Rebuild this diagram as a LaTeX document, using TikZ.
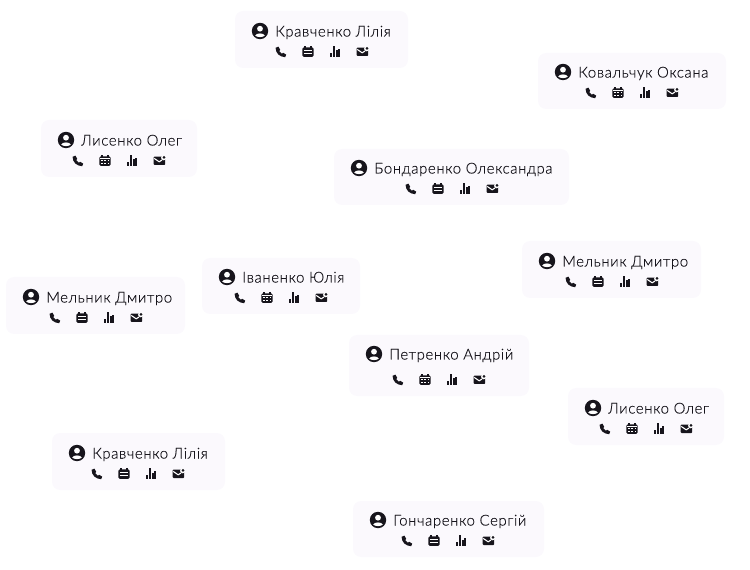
\documentclass[tikz,border=0pt]{standalone}
\usepackage{fontspec}
\setmainfont[LetterSpace=4,FakeBold=0.2]{Lato Light}
\usepackage{tikz}

\definecolor{cardbg}{HTML}{FBF9FD}
\definecolor{inkdark}{HTML}{17151C}

\begin{document}
\begin{tikzpicture}[x=0.75pt, y=-0.75pt,
    card/.style={fill=cardbg, rounded corners=6pt},
    person_name/.style={anchor=base west, inner sep=0pt, text=inkdark, font=\fontsize{11.2}{13}\selectfont},
    avatar/.pic={
      \fill[inkdark] (0,0) circle (8.2);
      \fill[white] (0,-2.3) circle (2.9);
      \fill[white] (-4.8,4.6) .. controls (-3.8,1.7) and (3.8,1.7) .. (4.8,4.6)
        .. controls (2.5,6.6) and (-2.5,6.6) .. cycle;
    },
    actions/.pic={
      % --- Phone ---
      \fill[inkdark] (-5.4,-4.2) -- (-2.6,-5.4) -- (-0.8,-2.2) -- (-1.8,-0.8)
        .. controls (-1.1,0.2) and (-0.2,1.1) .. (0.8,1.8) -- (2.2,0.8) -- (5.2,2.6) -- (4.2,5.2)
        .. controls (-1.5,5) and (-5.4,1.2) .. cycle;
      % --- Bars ---
      \fill[inkdark] (49,1) rectangle (51,5.2);
      \fill[inkdark] (51.8,-6) rectangle (53.8,5.2);
      \fill[inkdark] (54.6,-1.5) rectangle (56.6,5.2);
      \fill[inkdark] (57.4,-3) rectangle (59.4,5.2);
      % --- Mail ---
      \fill[inkdark, rounded corners=0.6pt] (75.7,-4.4) rectangle (87.2,4);
      \draw[white, line width=0.8pt] (76.2,-2.6) -- (81.2,0.8) -- (84,-1);
      \fill[white] (85.6,-3.2) circle (2.5);
      \fill[inkdark] (86,-3.7) circle (1.5);
    },
    agenda/.pic={
      \fill[inkdark, rounded corners=1pt] (-5.6,-4.6) rectangle (5.6,4.9);
      \fill[inkdark] (-3.6,-5.6) rectangle (-2.4,-3.5);
      \fill[inkdark] (2.4,-5.6) rectangle (3.6,-3.5);
      \fill[white] (-4.3,-1.8) rectangle (4.3,-1.1);
      \fill[white] (-4.3,1.1) rectangle (4.3,1.8);
    },
    month/.pic={
      \fill[inkdark, rounded corners=1pt] (-5.6,-4.6) rectangle (5.6,4.9);
      \fill[inkdark] (-3.6,-5.6) rectangle (-2.4,-3.5);
      \fill[inkdark] (2.4,-5.6) rectangle (3.6,-3.5);
      \fill[white] (-4.6,-2.6) rectangle (4.6,-2);
      \fill[white] (-3.7,-0.6) rectangle (-2.5,0.4);
      \fill[white] (-0.6,-0.6) rectangle (0.6,0.4);
      \fill[white] (2.5,-0.6) rectangle (3.7,0.4);
      \fill[white] (-3.7,1.8) rectangle (-2.5,2.8);
      \fill[white] (-0.6,1.8) rectangle (0.6,2.8);
      \fill[white] (2.5,1.8) rectangle (3.7,2.8);
    }
  ]
  \useasboundingbox (0,0) rectangle (750,570);

  % --- Card 1 ---
  \fill[card] (235,11) rectangle (408,68);
  \pic at (260,31) {avatar};
  \node[person_name] (name1) at (275,36.5) {Кравченко Лілія};
  \pic at (281,52) {actions};
  \pic at (308,52) {agenda};

  % --- Card 2 ---
  \fill[card] (538,53) rectangle (726,109);
  \pic at (563,72) {avatar};
  \node[person_name] (name2) at (578,77.5) {Ковальчук Оксана};
  \pic at (591,93) {actions};
  \pic at (618,93) {month};

  % --- Card 3 ---
  \fill[card] (41,120) rectangle (197,177);
  \pic at (66,140) {avatar};
  \node[person_name] (name3) at (81,145.5) {Лисенко Олег};
  \pic at (78,161) {actions};
  \pic at (105,161) {month};

  % --- Card 4 ---
  \fill[card] (334,149) rectangle (569,205);
  \pic at (359,168) {avatar};
  \node[person_name] (name4) at (374,173.5) {Бондаренко Олександра};
  \pic at (411,189) {actions};
  \pic at (438,189) {agenda};

  % --- Card 5 ---
  \fill[card] (522,241) rectangle (701,298);
  \pic at (547,261) {avatar};
  \node[person_name] (name5) at (562,266.5) {Мельник Дмитро};
  \pic at (571,282) {actions};
  \pic at (598,282) {agenda};

  % --- Card 6 ---
  \fill[card] (202,258) rectangle (360,314);
  \pic at (227,277) {avatar};
  \node[person_name] (name6) at (242,282.5) {Іваненко Юлія};
  \pic at (240,298) {actions};
  \pic at (267,298) {month};

  % --- Card 7 ---
  \fill[card] (6,277) rectangle (185,334);
  \pic at (31,297) {avatar};
  \node[person_name] (name7) at (46,302.5) {Мельник Дмитро};
  \pic at (55,318) {actions};
  \pic at (82,318) {agenda};

  % --- Card 8 ---
  \fill[card] (349,335) rectangle (529,396);
  \pic at (374,354) {avatar};
  \node[person_name] (name8) at (389,359.5) {Петренко Андрій};
  \pic at (398,380) {actions};
  \pic at (425,380) {month};

  % --- Card 9 ---
  \fill[card] (568,388) rectangle (724,445);
  \pic at (593,408) {avatar};
  \node[person_name] (name9) at (608,413.5) {Лисенко Олег};
  \pic at (605,429) {actions};
  \pic at (632,429) {month};

  % --- Card 10 ---
  \fill[card] (52,433) rectangle (225,490);
  \pic at (77,453) {avatar};
  \node[person_name] (name10) at (92,458.5) {Кравченко Лілія};
  \pic at (97,474) {actions};
  \pic at (124,474) {agenda};

  % --- Card 11 ---
  \fill[card] (353,501) rectangle (544,557);
  \pic at (378,520) {avatar};
  \node[person_name] (name11) at (393,525.5) {Гончаренко Сергій};
  \pic at (407,541) {actions};
  \pic at (434,541) {agenda};
\end{tikzpicture}
\end{document}
